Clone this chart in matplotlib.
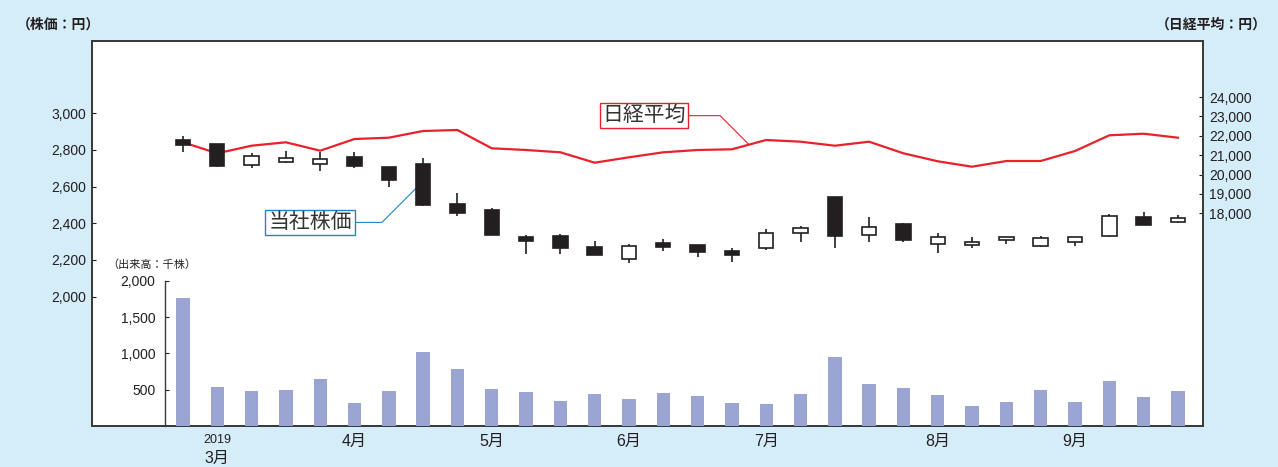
import matplotlib
matplotlib.use('Agg')
import matplotlib.pyplot as plt
import matplotlib.transforms as mtransforms
import numpy as np

plt.rcParams['font.family'] = ['Liberation Sans', 'Noto Sans CJK JP', 'DejaVu Sans']

# weekly candles, 2019 Mar - Sep
opens = [2854, 2831, 2718, 2736, 2722, 2762, 2709, 2723, 2505, 2472, 2324, 2331, 2272, 2204, 2292,
         2283, 2249, 2264, 2345, 2545, 2336, 2394, 2285, 2283, 2309, 2276, 2298, 2331, 2436, 2407]
closes = [2827, 2714, 2769, 2755, 2751, 2714, 2636, 2500, 2454, 2336, 2305, 2264, 2227, 2276, 2271,
          2242, 2227, 2349, 2373, 2331, 2378, 2309, 2323, 2300, 2323, 2318, 2323, 2441, 2389, 2431]
highs = [2876, 2831, 2782, 2794, 2790, 2790, 2709, 2755, 2567, 2485, 2336, 2342, 2303, 2287, 2314,
         2283, 2264, 2369, 2385, 2545, 2433, 2400, 2345, 2323, 2323, 2332, 2323, 2451, 2460, 2447]
lows = [2787, 2705, 2700, 2727, 2685, 2703, 2596, 2494, 2441, 2336, 2232, 2231, 2227, 2185, 2249,
        2214, 2190, 2254, 2300, 2267, 2300, 2296, 2236, 2267, 2289, 2269, 2278, 2324, 2389, 2400]
nikkei = [21666, 21096, 21488, 21664, 21231, 21834, 21901, 22247, 22298, 21354, 21267, 21148, 20612,
          20890, 21148, 21267, 21303, 21783, 21695, 21488, 21695, 21096, 20684, 20405, 20699, 20699,
          21215, 22025, 22107, 21901]
volume = [1772, 532, 477, 496, 647, 321, 477, 1023, 780, 514, 468, 340, 441, 376, 450,
          415, 316, 307, 447, 950, 573, 526, 429, 275, 336, 503, 330, 615, 405, 489]

month_pos = [5, 9, 13, 17, 22, 26]
month_labels = ['4月', '5月', '6月', '7月', '8月', '9月']
first_month_pos = 1

price_ticks = [2000, 2200, 2400, 2600, 2800, 3000]
nikkei_ticks = [18000, 19000, 20000, 21000, 22000, 23000, 24000]
volume_ticks = [500, 1000, 1500, 2000]

bg = '#d5ecf9'
dark = '#231f20'
red = '#e8212b'
blue = '#2584c6'
barc = '#9ba5d3'

x = np.arange(len(opens))
o = np.array(opens)
c = np.array(closes)

fig = plt.figure(figsize=(12.78, 4.67), dpi=100, facecolor=bg)
ax = fig.add_axes([0.0720, 0.0878, 0.8693, 0.8244])
ax2 = ax.twinx()
ax.set_zorder(2)
ax.patch.set_visible(False)
ax2.patch.set_visible(True)
ax2.set_facecolor('white')

# nikkei line (under candles)
ax2.plot(x, nikkei, color=red, lw=1.6, zorder=2)
ax2.set_ylim(7033, 26888)
ax2.set_yticks(nikkei_ticks)
ax2.set_yticklabels([f'{v:,}' for v in nikkei_ticks])
ax2.tick_params(axis='y', direction='in', length=3, width=0.8, pad=4.5, labelsize=10,
                colors=dark)

# candles
up = c >= o
ax.vlines(x, lows, highs, color=dark, lw=1.2, zorder=3)
ax.bar(x, np.abs(c - o), bottom=np.minimum(o, c), width=0.42,
       color=np.where(up, 'white', dark), edgecolor=dark, linewidth=1.2, zorder=4)
ax.set_ylim(1294, 3394)
ax.set_xlim(-2.65, 29.73)
ax.set_yticks(price_ticks)
ax.set_yticklabels([f'{v:,}' for v in price_ticks])
ax.tick_params(axis='y', direction='in', length=3, width=0.8, pad=4, labelsize=10,
               colors=dark)
ax.set_xticks(month_pos)
ax.set_xticklabels(month_labels)
ax.tick_params(axis='x', length=0, pad=6, labelsize=11.5, colors=dark)
for a in (ax, ax2):
    for s in a.spines.values():
        s.set_color('#3a3a3a')
        s.set_linewidth(1.3)

tr = mtransforms.blended_transform_factory(ax.transData, ax.transAxes)
ax.text(first_month_pos, -0.036, '2019', transform=tr, ha='center', va='center',
        fontsize=9, color=dark)
ax.text(first_month_pos, -0.083, '3月', transform=tr, ha='center', va='center',
        fontsize=11.5, color=dark)

# volume panel
axv = fig.add_axes([0.1291, 0.0878, 0.8122, 0.3105])
axv.set_zorder(3)
axv.patch.set_visible(False)
axv.bar(x, volume, width=0.39, color=barc, edgecolor='none')
axv.set_xlim(-0.525, 29.73)
axv.set_ylim(0, 2000)
axv.set_yticks(volume_ticks)
axv.set_yticklabels([f'{v:,}' for v in volume_ticks])
axv.tick_params(axis='y', direction='in', length=3, width=0.8, pad=7, labelsize=10,
                colors=dark)
axv.set_xticks([])
for k in ('top', 'right', 'bottom'):
    axv.spines[k].set_visible(False)
axv.spines['left'].set_color('#3a3a3a')
axv.spines['left'].set_linewidth(1.0)

# callouts
nk_i = 16.5
nk_v = (nikkei[16] + nikkei[17]) / 2
ax2.annotate('日経平均', xy=(nk_i, nk_v), xytext=(-105, 29), textcoords='offset pixels',
             ha='center', va='center', fontsize=15, color='#333333',
             bbox=dict(boxstyle='square,pad=0.12', fc='white', ec=red, lw=1.0),
             arrowprops=dict(arrowstyle='-', color=red, lw=0.8, relpos=(1, 0.5),
                             connectionstyle='angle,angleA=0,angleB=135,rad=0',
                             shrinkA=0, shrinkB=0))
ax.annotate('当社株価', xy=(7 - 0.21, 2590), xytext=(-106, -34), textcoords='offset pixels',
            ha='center', va='center', fontsize=15, color='#333333',
            bbox=dict(boxstyle='square,pad=0.15', fc='white', ec=blue, lw=1.0),
            arrowprops=dict(arrowstyle='-', color=blue, lw=0.8, relpos=(1, 0.5),
                            connectionstyle='angle,angleA=0,angleB=45,rad=0',
                            shrinkA=0, shrinkB=0))

fig.text(0.013, 0.9465, '（株価：円）', ha='left', va='center', fontsize=10,
         fontweight='bold', color=dark)
fig.text(0.991, 0.9465, '（日経平均：円）', ha='right', va='center', fontsize=10,
         fontweight='bold', color=dark)
fig.text(0.0837, 0.4325, '（出来高：千株）', ha='left', va='center', fontsize=8,
         color=dark)

fig.savefig('out.png', dpi=100, facecolor=bg)
